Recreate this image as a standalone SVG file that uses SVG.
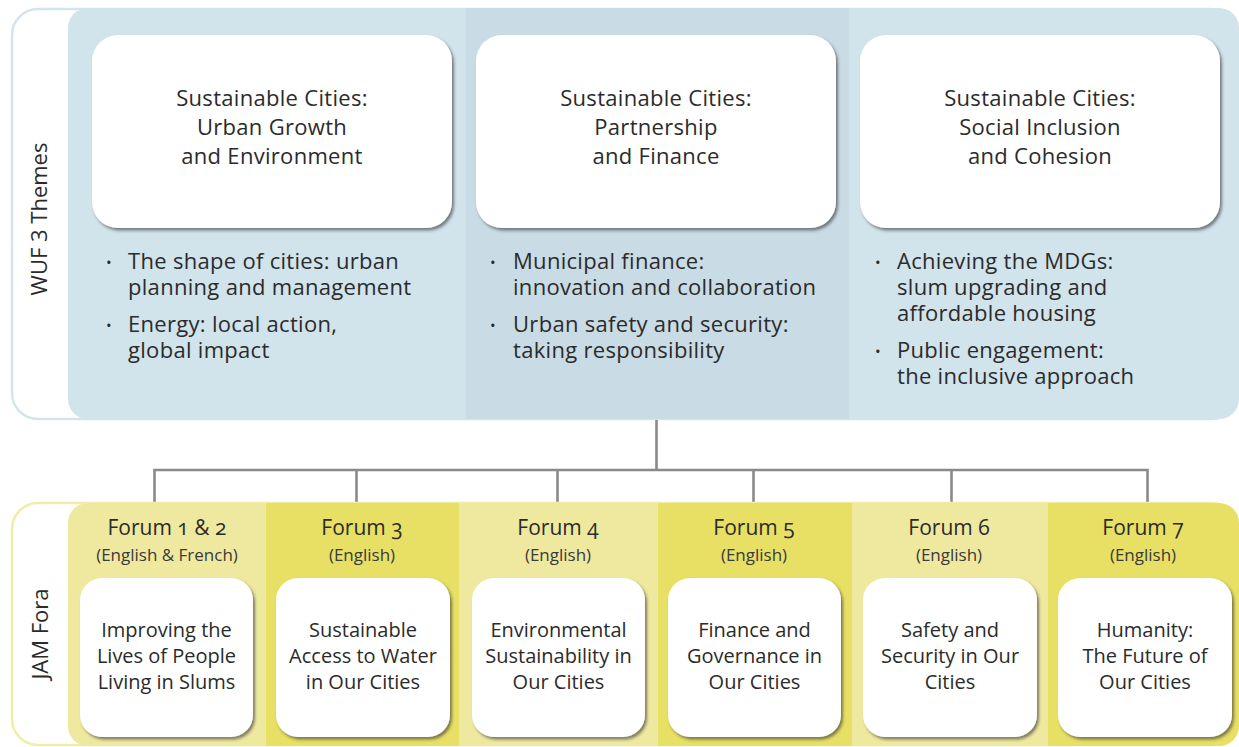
<svg xmlns="http://www.w3.org/2000/svg" width="1239" height="747" viewBox="0 0 1239 747">
<style>
  text { font-family: "Open Sans", "Noto Sans", "Liberation Sans", sans-serif; fill: #2b2b2b; }
  .title { font-size: 22px; text-anchor: middle; letter-spacing: 0.3px; }
  .bul { font-size: 22px; letter-spacing: 0.3px; }
  .dot { font-size: 15px; }
  .side { font-size: 22px; text-anchor: middle; }
  .forum { font-size: 21px; text-anchor: middle; font-variant-numeric: oldstyle-nums; font-feature-settings: "onum" 1; }
  .lang { font-size: 17px; text-anchor: middle; fill: #3a3a3a; }
  .ftxt { font-size: 20px; text-anchor: middle; }
  .box { fill: #ffffff; filter: url(#sh); }
  .conn { stroke: #8a8a8a; stroke-width: 2.6; fill: none; }
</style>
<defs>
  <filter id="sh" x="-10%" y="-10%" width="125%" height="125%">
    <feDropShadow dx="2" dy="2.5" stdDeviation="1.8" flood-color="#333" flood-opacity="0.6"/>
  </filter>
  <clipPath id="topClip"><rect x="68" y="8" width="1171" height="411" rx="20"/></clipPath>
  <clipPath id="botClip"><rect x="68" y="503" width="1171" height="243" rx="20"/></clipPath>
</defs>

<rect width="1239" height="747" fill="#ffffff"/>

<!-- Top section -->
<g id="wuf-themes">
  <rect x="12" y="9" width="1226" height="410" rx="26" fill="#ffffff" stroke="#d3e5ec" stroke-width="2.5"/>
  <g clip-path="url(#topClip)">
    <rect x="68" y="8" width="398" height="411" fill="#d1e3eb"/>
    <rect x="466" y="8" width="383" height="411" fill="#c9dbe5"/>
    <rect x="849" y="8" width="390" height="411" fill="#d1e3eb"/>
  </g>
  <text class="side" transform="translate(47,219) rotate(-90)">WUF 3 Themes</text>
</g>

<g id="theme1">
  <rect class="box" x="92" y="35" width="360" height="193" rx="26"/>
  <text class="title"><tspan x="272" y="106">Sustainable Cities:</tspan><tspan x="272" y="135">Urban Growth</tspan><tspan x="272" y="164">and Environment</tspan></text>
  <text class="bul dot" x="106" y="268">•</text>
  <text class="bul"><tspan x="128" y="269">The shape of cities: urban</tspan><tspan x="128" y="295">planning and management</tspan></text>
  <text class="bul dot" x="106" y="331">•</text>
  <text class="bul"><tspan x="128" y="332">Energy: local action,</tspan><tspan x="128" y="358">global impact</tspan></text>
</g>

<g id="theme2">
  <rect class="box" x="476" y="35" width="360" height="193" rx="26"/>
  <text class="title"><tspan x="656" y="106">Sustainable Cities:</tspan><tspan x="656" y="135">Partnership</tspan><tspan x="656" y="164">and Finance</tspan></text>
  <text class="bul dot" x="490" y="268">•</text>
  <text class="bul"><tspan x="513" y="269">Municipal finance:</tspan><tspan x="513" y="295">innovation and collaboration</tspan></text>
  <text class="bul dot" x="490" y="331">•</text>
  <text class="bul"><tspan x="513" y="332">Urban safety and security:</tspan><tspan x="513" y="358">taking responsibility</tspan></text>
</g>

<g id="theme3">
  <rect class="box" x="860" y="35" width="360" height="193" rx="26"/>
  <text class="title"><tspan x="1040" y="106">Sustainable Cities:</tspan><tspan x="1040" y="135">Social Inclusion</tspan><tspan x="1040" y="164">and Cohesion</tspan></text>
  <text class="bul dot" x="875" y="268">•</text>
  <text class="bul"><tspan x="897" y="269">Achieving the MDGs:</tspan><tspan x="897" y="295">slum upgrading and</tspan><tspan x="897" y="321">affordable housing</tspan></text>
  <text class="bul dot" x="875" y="357">•</text>
  <text class="bul"><tspan x="897" y="358">Public engagement:</tspan><tspan x="897" y="384">the inclusive approach</tspan></text>
</g>

<!-- Connectors -->
<g id="connectors">
  <path class="conn" d="M656.5 420 V470 M154.5 503 V470 H1147.5 V503 M356.5 470 V503 M557.5 470 V503 M753.5 470 V503 M951.5 470 V503"/>
</g>

<!-- Bottom section -->
<g id="jam-fora">
  <rect x="12" y="503" width="1226" height="242" rx="26" fill="#ffffff" stroke="#f1eca8" stroke-width="2.5"/>
  <g clip-path="url(#botClip)">
    <rect x="68" y="503" width="198" height="243" fill="#efe9a0"/>
    <rect x="266" y="503" width="193" height="243" fill="#e7e065"/>
    <rect x="459" y="503" width="199" height="243" fill="#efe9a0"/>
    <rect x="658" y="503" width="194" height="243" fill="#e7e065"/>
    <rect x="852" y="503" width="196" height="243" fill="#efe9a0"/>
    <rect x="1048" y="503" width="191" height="243" fill="#e7e065"/>
  </g>
  <text class="side" transform="translate(48,634) rotate(-90)">JAM Fora</text>
</g>

<g id="forum1">
  <text class="forum" x="167" y="535">Forum 1 &amp; 2</text>
  <text class="lang" x="167" y="561">(English &amp; French)</text>
  <rect class="box" x="80" y="578" width="173" height="159" rx="22"/>
  <text class="ftxt"><tspan x="166.5" y="637">Improving the</tspan><tspan x="166.5" y="663">Lives of People</tspan><tspan x="166.5" y="689">Living in Slums</tspan></text>
</g>

<g id="forum3">
  <text class="forum" x="362" y="535">Forum 3</text>
  <text class="lang" x="362" y="561">(English)</text>
  <rect class="box" x="276" y="578" width="174" height="159" rx="22"/>
  <text class="ftxt"><tspan x="363" y="637">Sustainable</tspan><tspan x="363" y="663">Access to Water</tspan><tspan x="363" y="689">in Our Cities</tspan></text>
</g>

<g id="forum4">
  <text class="forum" x="558" y="535">Forum 4</text>
  <text class="lang" x="558" y="561">(English)</text>
  <rect class="box" x="472" y="578" width="173" height="159" rx="22"/>
  <text class="ftxt"><tspan x="558.5" y="637">Environmental</tspan><tspan x="558.5" y="663">Sustainability in</tspan><tspan x="558.5" y="689">Our Cities</tspan></text>
</g>

<g id="forum5">
  <text class="forum" x="754" y="535">Forum 5</text>
  <text class="lang" x="754" y="561">(English)</text>
  <rect class="box" x="668" y="578" width="173" height="159" rx="22"/>
  <text class="ftxt"><tspan x="754.5" y="637">Finance and</tspan><tspan x="754.5" y="663">Governance in</tspan><tspan x="754.5" y="689">Our Cities</tspan></text>
</g>

<g id="forum6">
  <text class="forum" x="949" y="535">Forum 6</text>
  <text class="lang" x="949" y="561">(English)</text>
  <rect class="box" x="863" y="578" width="174" height="159" rx="22"/>
  <text class="ftxt"><tspan x="950" y="637">Safety and</tspan><tspan x="950" y="663">Security in Our</tspan><tspan x="950" y="689">Cities</tspan></text>
</g>

<g id="forum7">
  <text class="forum" x="1143" y="535">Forum 7</text>
  <text class="lang" x="1143" y="561">(English)</text>
  <rect class="box" x="1058" y="578" width="174" height="159" rx="22"/>
  <text class="ftxt"><tspan x="1145" y="637">Humanity:</tspan><tspan x="1145" y="663">The Future of</tspan><tspan x="1145" y="689">Our Cities</tspan></text>
</g>
</svg>
